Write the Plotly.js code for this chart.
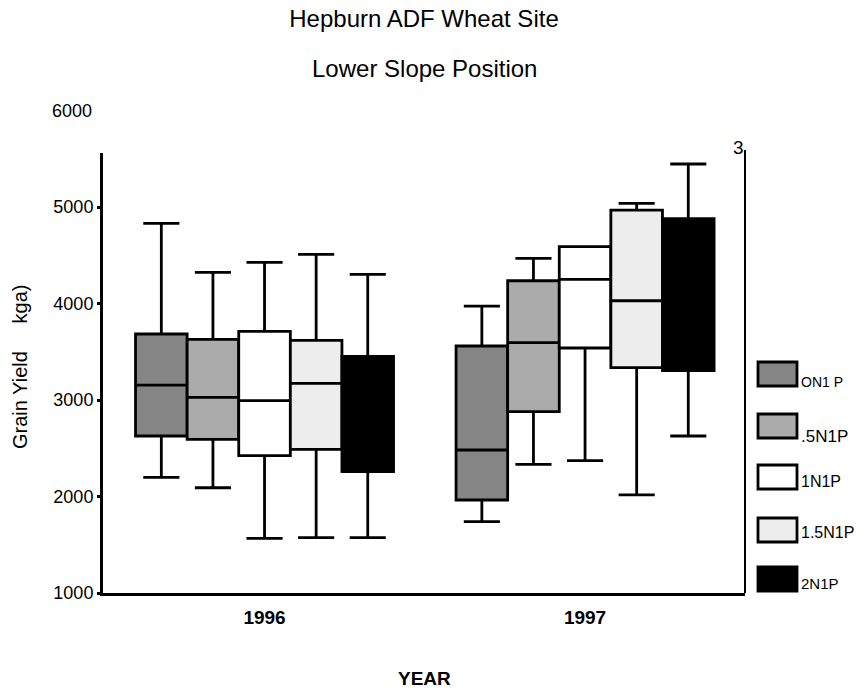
<!DOCTYPE html>
<html><head><meta charset="utf-8">
<script src="https://cdn.plot.ly/plotly-3.0.1.min.js"></script>
<style>html,body{margin:0;padding:0;background:#fff}#chart{width:866px;height:690px}</style>
</head><body><div id="chart"></div>
<script>
// Data (grain yield, kg/ha)
const years = ['1996', '1997'];
const seriesNames = ['ON1 P', '.5N1P', '1N1P', '1.5N1P', '2N1P'];
// each row: one series, values for [1996, 1997]
const lowerFence = [[2199, 1739], [2091, 2334], [1567, 2371], [1573, 2016], [1573, 2627]];
const q1Vals     = [[2627, 1964], [2593, 2879], [2423, 3539], [2489, 3335], [2257, 3304]];
const medians    = [[3155, 2482], [3028, 3594], [2993, 4251], [3173, 4029], [2850, 4100]];
const q3Vals     = [[3684, 3560], [3629, 4236], [3712, 4589], [3619, 4969], [3453, 4879]];
const upperFence = [[4831, 3974], [4323, 4468], [4427, 4589], [4510, 5038], [4303, 5446]];
const yTicks = [1000, 2000, 3000, 4000, 5000];
const fills = ['#858585', '#ababab', '#ffffff', '#ededed', '#000000'];

const FONT = 'Liberation Sans, Arial, sans-serif';

const traces = seriesNames.map((nm, i) => ({
  type: 'box',
  name: nm,
  x: years,
  q1: q1Vals[i],
  median: medians[i],
  q3: q3Vals[i],
  lowerfence: lowerFence[i],
  upperfence: upperFence[i],
  fillcolor: fills[i],
  line: {color: '#000', width: 2.8},
  whiskerwidth: 0.7,
  boxpoints: false,
  showlegend: false,
  hoverinfo: 'skip'
}));

// plot area in pixels: left 103, right 745, top 153, bottom 593
const L = 103, R = 745, T = 153, B = 593;
const px2x = p => (p - L) / (R - L);
const px2y = p => (B - p) / (B - T);

const legendSwatchPx = [374, 426, 477, 530, 579];
const legendTextPx = [382, 436, 481, 532, 583];
const legendSizes = [14, 17, 16, 16, 15];
const shapes = [
  {type: 'line', xref: 'paper', yref: 'paper', x0: 1, x1: 1, y0: 0, y1: px2y(150),
   line: {color: '#000', width: 2}}
];
const annotations = [
  {text: 'Lower Slope Position', xref: 'paper', yref: 'paper', x: 0.5, y: px2y(68),
   showarrow: false, xanchor: 'center', yanchor: 'middle', font: {family: FONT, size: 24, color: '#000'}},
  {text: '<b>YEAR</b>', xref: 'paper', yref: 'paper', x: px2x(424), y: px2y(678),
   showarrow: false, xanchor: 'center', yanchor: 'middle', font: {family: FONT, size: 19, color: '#000'}},
  {text: 'Grain Yield\u00a0\u00a0\u00a0\u00a0\u00a0kga)', xref: 'paper', yref: 'paper', x: px2x(20), y: px2y(367),
   textangle: -90, showarrow: false, xanchor: 'center', yanchor: 'middle', font: {family: FONT, size: 20, color: '#000'}},
  {text: '3', xref: 'paper', yref: 'paper', x: px2x(738), y: px2y(148),
   showarrow: false, xanchor: 'center', yanchor: 'middle', font: {family: FONT, size: 19, color: '#000'}},
  {text: '6000', xref: 'paper', yref: 'paper', x: px2x(94), y: px2y(111),
   showarrow: false, xanchor: 'right', yanchor: 'middle', font: {family: FONT, size: 18, color: '#000'}}
];
seriesNames.forEach((nm, i) => {
  const yc = legendSwatchPx[i];
  shapes.push({type: 'rect', xref: 'paper', yref: 'paper',
    x0: px2x(758), x1: px2x(797), y0: px2y(yc + 12), y1: px2y(yc - 12),
    fillcolor: fills[i], line: {color: '#000', width: 2.8}});
  annotations.push({text: nm, xref: 'paper', yref: 'paper', x: px2x(799), y: px2y(legendTextPx[i]),
    showarrow: false, xanchor: 'left', yanchor: 'middle', font: {family: FONT, size: legendSizes[i], color: '#000'}});
});

const layout = {
  width: 866, height: 690,
  margin: {l: L, r: 866 - R, t: T, b: 690 - B, pad: 0},
  paper_bgcolor: '#fff', plot_bgcolor: '#fff',
  title: {text: 'Hepburn ADF Wheat Site', xref: 'paper', yref: 'container', x: 0.5, y: 1 - 19 / 690,
          xanchor: 'center', yanchor: 'middle', font: {family: FONT, size: 24, color: '#000'}},
  boxmode: 'group', boxgap: 0.195, boxgroupgap: 0,
  showlegend: false,
  xaxis: {type: 'category', range: [-0.504, 1.499], showline: true, linewidth: 3, linecolor: '#000',
          ticks: '', showgrid: false, zeroline: false, ticklabelstandoff: 5,
          tickfont: {family: FONT, size: 19, color: '#000', weight: 'bold'}},
  yaxis: {range: [1000, 5560], tickvals: yTicks, ticktext: yTicks.map(String), ticks: 'outside',
          ticklen: 3, tickwidth: 3, tickcolor: '#000', showline: true, linewidth: 3, linecolor: '#000',
          showgrid: false, zeroline: false, ticklabelstandoff: 0,
          tickfont: {family: FONT, size: 18, color: '#000'}},
  shapes: shapes,
  annotations: annotations
};

Plotly.newPlot('chart', traces, layout, {staticPlot: true, displayModeBar: false});
</script>
</body></html>
